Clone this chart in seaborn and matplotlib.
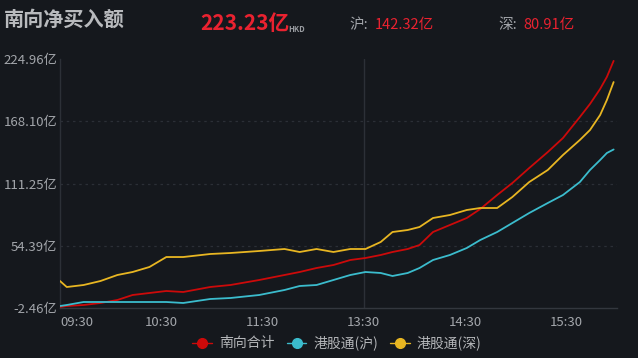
import matplotlib
matplotlib.use("Agg")
import matplotlib.pyplot as plt
from matplotlib.lines import Line2D
import seaborn as sns
import pandas as pd

# ---- data ----
times = ["09:30", "09:34", "09:44", "09:54", "10:04", "10:13", "10:23", "10:33", "10:43",
         "10:59", "11:11", "11:28", "11:43", "11:52", "13:02", "13:12", "13:22", "13:31",
         "13:40", "13:47", "13:56", "14:03", "14:11", "14:21", "14:31", "14:39", "14:49",
         "14:58", "15:08", "15:19", "15:28", "15:38", "15:44", "15:50", "15:54", "15:58"]
total = [-1.55, -0.63, 0.28, 2.11, 4.85, 9.41, 11.24, 13.07, 12.15,
         16.72, 18.55, 23.11, 27.68, 30.42, 34.07, 36.81, 41.38, 43.21,
         45.95, 48.69, 51.43, 55.08, 66.95, 73.35, 79.74, 87.96, 100.75,
         111.7, 125.4, 140.0, 152.8, 172.0, 183.9, 197.6, 208.6, 223.23]
sh = [-0.63, 0.28, 3.02, 3.02, 3.02, 3.02, 3.02, 3.02, 2.11,
      5.76, 6.67, 9.41, 13.98, 17.63, 18.55, 23.11, 27.68, 30.42,
      29.51, 26.77, 29.51, 34.07, 41.38, 45.95, 52.34, 59.65, 66.95,
      75.17, 84.31, 93.44, 100.75, 112.6, 123.6, 132.7, 139.1, 142.32]
sz = [22.2, 16.7, 18.55, 22.2, 27.68, 30.42, 35.0, 44.1, 44.1,
      46.86, 47.77, 49.6, 51.43, 48.69, 51.43, 48.69, 51.43, 51.43,
      57.82, 66.95, 68.78, 71.52, 79.74, 82.48, 87.05, 88.87, 88.87,
      98.92, 112.6, 123.6, 137.3, 151.0, 160.1, 173.8, 187.5, 203.9]
series_names = ["南向合计", "港股通(沪)", "港股通(深)"]
yticks = [-2.46, 54.39, 111.25, 168.10, 224.96]
xtick_labels = ["09:30", "10:30", "11:30", "13:30", "14:30", "15:30"]
header_total = "223.23亿"
header_sh = "142.32亿"
header_sz = "80.91亿"

# ---- style ----
BG = "#15181d"
GRAY = "#a3a6ab"
RED = "#cc0a0a"
CYAN = "#3bbccd"
YEL = "#e8b622"
TXT_RED = "#ea2230"
colors = [RED, CYAN, YEL]

sns.set_theme(style="dark")
plt.rcParams['font.family'] = ['Noto Sans CJK SC', 'DejaVu Sans']
plt.rcParams['axes.unicode_minus'] = False


def pos(t):
    h, m = map(int, t.split(":"))
    mins = h * 60 + m
    if mins <= 720:
        return mins - 570
    return mins - 780 + 150


x = [pos(t) for t in times]
df = pd.concat([
    pd.DataFrame({"x": x, "v": total, "s": series_names[0]}),
    pd.DataFrame({"x": x, "v": sh, "s": series_names[1]}),
    pd.DataFrame({"x": x, "v": sz, "s": series_names[2]}),
])

fig = plt.figure(figsize=(6.38, 3.58), dpi=100, facecolor=BG)
ax = fig.add_axes([60 / 638, 1 - 308 / 358, 557 / 638, 249 / 358])
ax.set_facecolor(BG)

sns.lineplot(data=df, x="x", y="v", hue="s", palette=dict(zip(series_names, colors)),
             linewidth=1.3, legend=False, ax=ax, zorder=3)

ax.set_xlim(0, 330)
ax.set_ylim(yticks[0], yticks[-1])
ax.set_xlabel("")
ax.set_ylabel("")

# y axis
ax.set_yticks(yticks)
ax.set_yticklabels([f"{v:.2f}亿" for v in yticks], color=GRAY, fontsize=9.5)
ax.tick_params(axis="y", length=0, pad=2)
for v in yticks[1:-1]:
    ax.axhline(v, color="#2b2f36", lw=0.9, ls=(0, (2, 3)), zorder=1)

# x axis
major = [pos(t) for t in xtick_labels]
ax.set_xticks(major)
ax.set_xticklabels(xtick_labels, color=GRAY, fontsize=9.5)
ax.get_xticklabels()[0].set_horizontalalignment("left")
ax.set_xticks([30, 90, 150, 210, 270, 330], minor=True)
ax.tick_params(axis="x", which="both", length=3, color="#3a3e45", pad=3, direction="out")
ax.axvline(pos("13:30"), color="#2c3037", lw=1.0, zorder=1)

ax.grid(False)
for side in ["top", "right"]:
    ax.spines[side].set_visible(False)
ax.spines["left"].set_color("#2c3037")
ax.spines["bottom"].set_color("#33373e")
ax.spines["left"].set_linewidth(1.0)
ax.spines["bottom"].set_linewidth(1.0)

# header
fig.text(4 / 638, 1 - 19 / 358, "南向净买入额", color="#b8babd", fontsize=14.5,
         fontweight="bold", va="center", ha="left")
t1 = fig.text(200 / 638, 1 - 24 / 358, header_total, color=TXT_RED, fontsize=15,
              fontweight="bold", va="center", ha="left")
fig.text(288 / 638, 1 - 29 / 358, "HKD", color="#9a9da2", fontsize=5.5,
         fontweight="bold", va="center", ha="left")
fig.text(349 / 638, 1 - 25 / 358, "沪:", color=GRAY, fontsize=10.5, va="center", ha="left")
fig.text(375 / 638, 1 - 25 / 358, header_sh, color=TXT_RED, fontsize=10.5, va="center", ha="left")
fig.text(498 / 638, 1 - 25 / 358, "深:", color=GRAY, fontsize=10.5, va="center", ha="left")
fig.text(523 / 638, 1 - 25 / 358, header_sz, color=TXT_RED, fontsize=10.5, va="center", ha="left")

# legend
handles = [Line2D([0], [0], color=c, lw=1.0, marker="o", markersize=7,
                  markerfacecolor=c, markeredgecolor=c) for c in colors]
leg = fig.legend(handles, series_names, loc="center", bbox_to_anchor=(337 / 638, 1 - 343 / 358),
                 ncol=3, frameon=False, fontsize=10, handlelength=1.4, handletextpad=0.5,
                 columnspacing=0.9, labelcolor="#b4b6b9")

fig.savefig("out.png", dpi=100, facecolor=BG)
